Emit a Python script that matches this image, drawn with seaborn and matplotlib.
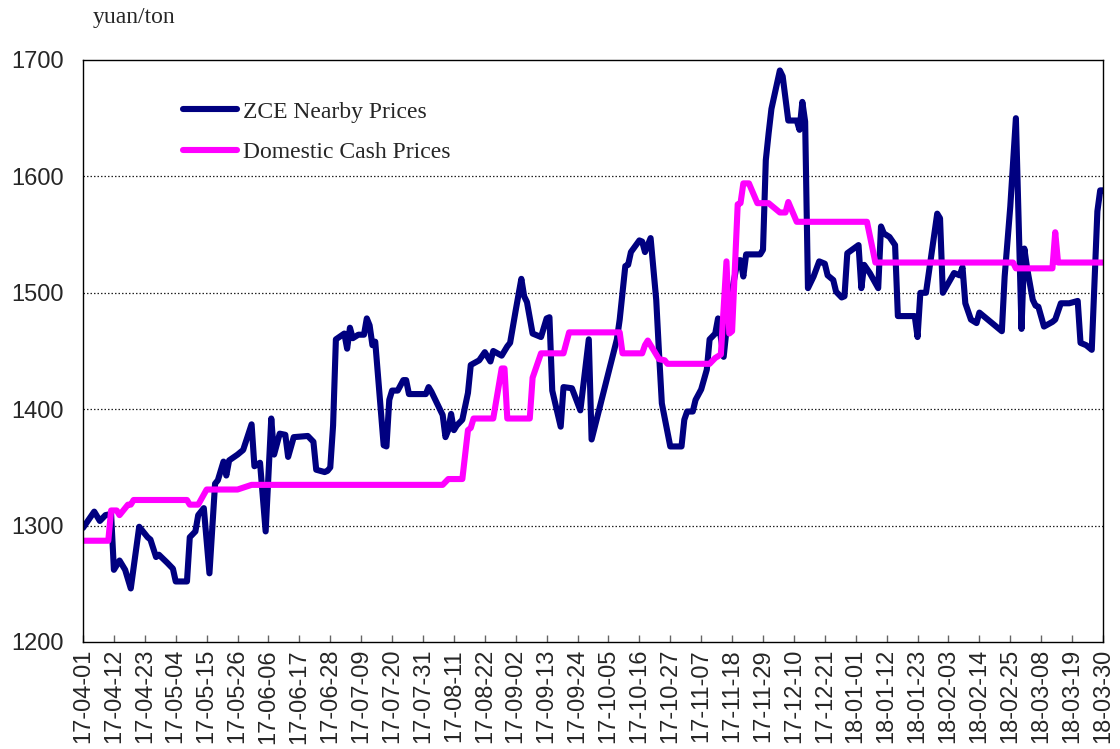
import pandas as pd
import numpy as np
import matplotlib
matplotlib.use('Agg')
import matplotlib.pyplot as plt
import matplotlib.dates as mdates
import seaborn as sns

# ZCE nearby prices (yuan/ton)
zce_dates = ['17-04-01', '17-04-05', '17-04-07', '17-04-09', '17-04-11', '17-04-12', '17-04-14', '17-04-16',
             '17-04-18', '17-04-21', '17-04-24', '17-04-25', '17-04-27', '17-04-28', '17-05-01', '17-05-03',
             '17-05-04', '17-05-08', '17-05-09', '17-05-11', '17-05-12', '17-05-14', '17-05-16', '17-05-18',
             '17-05-19', '17-05-21', '17-05-22', '17-05-23', '17-05-26', '17-05-28', '17-05-31', '17-06-01',
             '17-06-03', '17-06-05', '17-06-07', '17-06-08', '17-06-10', '17-06-12', '17-06-13', '17-06-15',
             '17-06-20', '17-06-22', '17-06-23', '17-06-26', '17-06-27', '17-06-28', '17-06-29', '17-06-30',
             '17-07-03', '17-07-04', '17-07-05', '17-07-06', '17-07-08', '17-07-10', '17-07-11', '17-07-12',
             '17-07-13', '17-07-14', '17-07-17', '17-07-18', '17-07-19', '17-07-20', '17-07-22', '17-07-24',
             '17-07-25', '17-07-26', '17-08-01', '17-08-02', '17-08-03', '17-08-05', '17-08-07', '17-08-08',
             '17-08-09', '17-08-10', '17-08-11', '17-08-12', '17-08-14', '17-08-16', '17-08-17', '17-08-20',
             '17-08-22', '17-08-24', '17-08-25', '17-08-28', '17-08-30', '17-08-31', '17-09-02', '17-09-04',
             '17-09-05', '17-09-06', '17-09-08', '17-09-11', '17-09-13', '17-09-14', '17-09-15', '17-09-18',
             '17-09-19', '17-09-22', '17-09-25', '17-09-28', '17-09-29', '17-10-08', '17-10-09', '17-10-11',
             '17-10-12', '17-10-13', '17-10-16', '17-10-17', '17-10-18', '17-10-20', '17-10-22', '17-10-23',
             '17-10-24', '17-10-27', '17-10-31', '17-11-01', '17-11-02', '17-11-04', '17-11-05', '17-11-07',
             '17-11-09', '17-11-10', '17-11-12', '17-11-13', '17-11-15', '17-11-16', '17-11-18', '17-11-20',
             '17-11-21', '17-11-22', '17-11-23', '17-11-28', '17-11-29', '17-11-30', '17-12-01', '17-12-02',
             '17-12-05', '17-12-06', '17-12-08', '17-12-11', '17-12-12', '17-12-13', '17-12-14', '17-12-15',
             '17-12-17', '17-12-19', '17-12-21', '17-12-22', '17-12-24', '17-12-25', '17-12-27', '17-12-28',
             '17-12-29', '18-01-02', '18-01-03', '18-01-04', '18-01-06', '18-01-09', '18-01-10', '18-01-11',
             '18-01-13', '18-01-15', '18-01-16', '18-01-22', '18-01-23', '18-01-24', '18-01-26', '18-01-30',
             '18-01-31', '18-02-01', '18-02-05', '18-02-07', '18-02-08', '18-02-09', '18-02-11', '18-02-13',
             '18-02-14', '18-02-22', '18-02-23', '18-02-25', '18-02-27', '18-03-01', '18-03-02', '18-03-03',
             '18-03-05', '18-03-06', '18-03-07', '18-03-09', '18-03-12', '18-03-13', '18-03-15', '18-03-18',
             '18-03-21', '18-03-22', '18-03-24', '18-03-26', '18-03-28', '18-03-29', '18-03-30']
zce_prices = [1298, 1312, 1304, 1309, 1310, 1262, 1270, 1262,
              1246, 1299, 1290, 1288, 1273, 1275, 1268, 1263,
              1252, 1252, 1290, 1295, 1309, 1315, 1259, 1336,
              1339, 1355, 1343, 1356, 1361, 1365, 1387, 1351,
              1354, 1295, 1392, 1361, 1379, 1378, 1359, 1376,
              1377, 1372, 1348, 1346, 1347, 1350, 1386, 1460,
              1465, 1452, 1470, 1461, 1464, 1464, 1478, 1472,
              1455, 1458, 1369, 1368, 1408, 1416, 1416, 1425,
              1425, 1413, 1413, 1419, 1415, 1405, 1395, 1376,
              1382, 1396, 1382, 1386, 1391, 1414, 1438, 1442,
              1449, 1441, 1450, 1446, 1454, 1457, 1485, 1512,
              1497, 1492, 1465, 1462, 1478, 1479, 1416, 1385,
              1419, 1418, 1399, 1460, 1374, 1460, 1477, 1523,
              1524, 1535, 1545, 1544, 1535, 1547, 1494, 1448,
              1405, 1368, 1368, 1391, 1398, 1398, 1408, 1417,
              1434, 1460, 1465, 1478, 1445, 1468, 1502, 1528,
              1528, 1514, 1533, 1533, 1537, 1614, 1637, 1658,
              1691, 1686, 1648, 1648, 1640, 1664, 1647, 1504,
              1514, 1527, 1525, 1515, 1511, 1501, 1496, 1497,
              1534, 1541, 1504, 1524, 1517, 1504, 1557, 1551,
              1548, 1541, 1480, 1480, 1462, 1500, 1500, 1568,
              1564, 1500, 1517, 1515, 1522, 1491, 1477, 1474,
              1483, 1467, 1514, 1574, 1650, 1469, 1538, 1521,
              1494, 1489, 1488, 1471, 1475, 1477, 1491, 1491,
              1493, 1457, 1455, 1451, 1570, 1588, 1588]

# Domestic cash prices (yuan/ton)
cash_dates = ['17-04-01', '17-04-10', '17-04-11', '17-04-13', '17-04-14', '17-04-17', '17-04-18', '17-04-19',
              '17-05-08', '17-05-09', '17-05-12', '17-05-15', '17-05-26', '17-05-31', '17-08-07', '17-08-09',
              '17-08-14', '17-08-16', '17-08-17', '17-08-18', '17-08-25', '17-08-28', '17-08-29', '17-08-30',
              '17-09-07', '17-09-08', '17-09-11', '17-09-19', '17-09-21', '17-10-09', '17-10-10', '17-10-17',
              '17-10-18', '17-10-19', '17-10-23', '17-10-25', '17-10-26', '17-11-10', '17-11-12', '17-11-14',
              '17-11-16', '17-11-17', '17-11-18', '17-11-20', '17-11-21', '17-11-22', '17-11-24', '17-11-27',
              '17-12-01', '17-12-05', '17-12-07', '17-12-08', '17-12-11', '18-01-05', '18-01-08', '18-02-26',
              '18-02-27', '18-03-12', '18-03-13', '18-03-14', '18-03-30']
cash_prices = [1287, 1287, 1313, 1313, 1309, 1318, 1318, 1322,
               1322, 1318, 1318, 1331, 1331, 1335, 1335, 1340,
               1340, 1382, 1384, 1392, 1392, 1435, 1435, 1392,
               1392, 1427, 1448, 1448, 1466, 1466, 1448, 1448,
               1455, 1459, 1443, 1442, 1439, 1439, 1444, 1447,
               1527, 1465, 1467, 1576, 1577, 1594, 1594, 1577,
               1577, 1569, 1569, 1578, 1561, 1561, 1526, 1526,
               1521, 1521, 1552, 1526, 1526]

zce = pd.DataFrame({'date': pd.to_datetime(zce_dates, format='%y-%m-%d'), 'price': zce_prices})
cash = pd.DataFrame({'date': pd.to_datetime(cash_dates, format='%y-%m-%d'), 'price': cash_prices})

sns.set_style('white')
plt.rcParams['font.family'] = ['Liberation Sans', 'DejaVu Sans']

fig = plt.figure(figsize=(11.2, 7.49), dpi=100)
ax = fig.add_axes([83 / 1120, 1 - 642 / 749, 1020 / 1120, 582 / 749])

line_kw = dict(linewidth=4.4, solid_joinstyle='round', solid_capstyle='round')
sns.lineplot(data=zce, x='date', y='price', ax=ax, color='#000080', label='ZCE Nearby Prices', **line_kw)
sns.lineplot(data=cash, x='date', y='price', ax=ax, color='#FF00FF', label='Domestic Cash Prices', **line_kw)

start, end = pd.Timestamp('2017-04-01'), pd.Timestamp('2018-03-30')
ax.set_xlim(start, end)
ax.set_ylim(1200, 1700)
ax.set_yticks([1200, 1300, 1400, 1500, 1600, 1700])
ax.set_xticks(pd.date_range(start, end, freq='11D'))
ax.xaxis.set_major_formatter(mdates.DateFormatter('%y-%m-%d'))

for y in [1300, 1400, 1500, 1600]:
    ax.axhline(y, color='#222222', linewidth=0.9, linestyle=(0, (1.2, 1.6)), zorder=0)

ax.set_xlabel('')
ax.set_ylabel('')
for s in ax.spines.values():
    s.set_visible(True)
    s.set_color('black')
    s.set_linewidth(1.0)

ax.tick_params(axis='y', length=0, pad=14, labelsize=17)
ax.tick_params(axis='x', direction='in', length=5, width=1, color='#666666', pad=5, labelsize=17,
               labelrotation=90, bottom=True)

ax.legend(loc='upper left', bbox_to_anchor=(0.098, 0.9295), frameon=False, borderpad=0,
          borderaxespad=0, handlelength=2.3, handletextpad=0.25, labelspacing=0.8,
          prop={'family': 'Liberation Serif', 'size': 17})

fig.text(93 / 1120, 1 - 23 / 749, 'yuan/ton', family='Liberation Serif', fontsize=17, va='baseline')

plt.savefig('out.png', dpi=100)
